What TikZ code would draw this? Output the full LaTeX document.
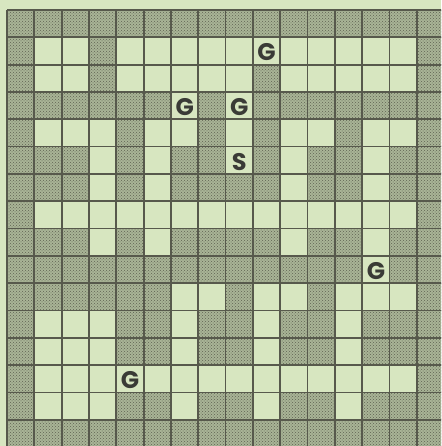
\documentclass[tikz,border=0pt]{standalone}
\usepackage{fontspec}
\setmainfont{Poppins}
\usetikzlibrary{patterns}
\definecolor{bg}{HTML}{D7E6C0}
\definecolor{gridc}{HTML}{57594C}
\definecolor{dotc}{HTML}{5F6352}
\definecolor{txt}{HTML}{3A3B36}
\tikzset{
  cellshade/.style={preaction={fill=bg!62!dotc}, pattern=crosshatch dots, pattern color=dotc},
  gridline/.style={draw=gridc, line width=1.7pt},
  letter/.style={font=\fontsize{24}{24}\selectfont\bfseries, text=txt, inner sep=0pt, yshift=-1.5pt},
}
\begin{document}
\begin{tikzpicture}[x=1pt,y=-1pt]
\def\cs{27.33}
\useasboundingbox (0,0) rectangle (441,446);
\fill[bg] (0,0) rectangle (441,446);
\begin{scope}
\clip (0,0) rectangle (441,446);
\foreach \row [count=\ri from 0] in {
  {1,1,1,1,1,1,1,1,1,1,1,1,1,1,1,1},
  {1,0,0,1,0,0,0,0,0,0,0,0,0,0,0,1},
  {1,0,0,1,0,0,0,0,0,1,0,0,0,0,0,1},
  {1,1,1,1,1,1,0,1,0,1,1,1,1,1,1,1},
  {1,0,0,0,1,0,0,1,0,1,0,0,1,0,0,1},
  {1,1,1,0,1,0,1,1,0,1,0,1,1,0,1,1},
  {1,1,1,0,1,0,1,1,1,1,0,1,1,0,1,1},
  {1,0,0,0,0,0,0,0,0,0,0,0,0,0,0,1},
  {1,1,1,0,1,0,1,1,1,1,0,1,1,0,1,1},
  {1,1,1,1,1,1,1,1,1,1,1,1,1,0,1,1},
  {1,1,1,1,1,1,0,0,1,0,0,1,0,0,0,1},
  {1,0,0,0,1,1,0,1,1,0,1,1,0,1,1,1},
  {1,0,0,0,1,1,0,1,1,0,1,1,0,1,1,1},
  {1,0,0,0,0,0,0,0,0,0,0,0,0,0,0,1},
  {1,0,0,0,1,1,0,1,1,0,1,1,0,1,1,1},
  {1,1,1,1,1,1,1,1,1,1,1,1,1,1,1,1}}{
  \foreach \sv [count=\ci from 0] in \row {
    \ifnum\sv=1
      \path[cellshade] ({7+\ci*\cs},{10+\ri*\cs}) rectangle ++(\cs,\cs);
    \fi
  }
}
\foreach \i in {0,...,16} {
  \draw[gridline] ({7+\i*\cs},10) -- ({7+\i*\cs},460);
  \draw[gridline] (7,{10+\i*\cs}) -- (460,{10+\i*\cs});
}
\end{scope}
\node[letter] (g1) at ({7+9.5*\cs},{10+1.5*\cs}) {G};
\node[letter] (g2) at ({7+6.5*\cs},{10+3.5*\cs}) {G};
\node[letter] (g3) at ({7+8.5*\cs},{10+3.5*\cs}) {G};
\node[letter] (s1) at ({7+8.5*\cs},{10+5.5*\cs}) {S};
\node[letter] (g4) at ({7+13.5*\cs},{10+9.5*\cs}) {G};
\node[letter] (g5) at ({7+4.5*\cs},{10+13.5*\cs}) {G};
\end{tikzpicture}
\end{document}
